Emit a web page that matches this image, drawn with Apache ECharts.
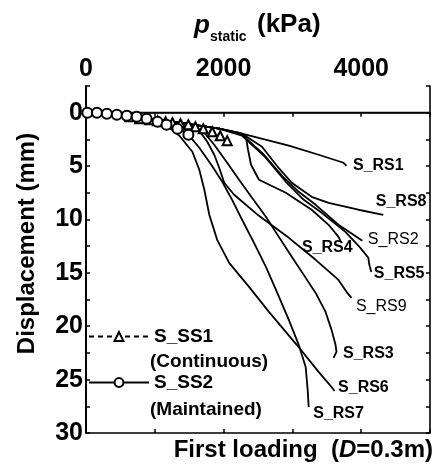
<!DOCTYPE html>
<html>
<head>
<meta charset="utf-8">
<script src="https://cdn.jsdelivr.net/npm/echarts@6/dist/echarts.min.js"></script>
<style>
html,body{margin:0;padding:0;background:#fff;}
#chart{width:433px;height:468px;}
</style>
</head>
<body>
<div id="chart"></div>
<script>
// ---- data (p_static in kPa, displacement in mm) ----
const pLabelValues = [0, 2000, 4000];
const dLabelValues = [0, 5, 10, 15, 20, 25, 30];

const ss1Name = 'S_SS1';
const ss1Note = '(Continuous)';
const ss1P = [636, 780, 925, 1040, 1156, 1257, 1373, 1488, 1590, 1705, 1835, 1951, 2052];
const ss1D = [0.37, 0.56, 0.66, 0.75, 0.84, 0.94, 1.03, 1.12, 1.31, 1.5, 1.78, 2.16, 2.62];

const ss2Name = 'S_SS2';
const ss2Note = '(Maintained)';
const ss2P = [20, 159, 303, 448, 592, 737, 881, 1040, 1170, 1329, 1488];
const ss2D = [0, 0, 0.09, 0.19, 0.28, 0.37, 0.56, 0.84, 1.12, 1.5, 2.06];

const rs1P = [0, 347, 636, 925, 1214, 1647, 1936, 2225, 2948, 3381, 3743, 3786];
const rs1D = [0, 0.09, 0.28, 0.56, 0.8, 1.22, 1.5, 1.88, 3.09, 3.94, 4.69, 4.97];
const rs8P = [0, 347, 636, 925, 1214, 1647, 1936, 2269, 2558, 2803, 2991, 3280, 3526, 3959, 4321];
const rs8D = [0, 0.09, 0.28, 0.56, 0.8, 1.22, 1.5, 1.97, 3.19, 5.2, 6.56, 7.88, 8.44, 9.09, 9.56];
const rs2P = [0, 347, 636, 925, 1214, 1647, 1936, 2269, 2587, 2876, 3092, 3338, 3670, 4017];
const rs2D = [0, 0.09, 0.28, 0.56, 0.8, 1.22, 1.5, 2.06, 3.94, 6.09, 7.41, 8.63, 10.5, 12.0];
const rs5P = [0, 347, 636, 925, 1214, 1647, 1936, 2269, 2587, 2904, 3165, 3425, 3771, 3988, 4104, 4118, 4147];
const rs5D = [0, 0.09, 0.28, 0.56, 0.8, 1.22, 1.5, 2.16, 4.03, 6.47, 8.16, 9.38, 11.16, 12.66, 13.59, 14.25, 14.91];
const rs4P = [0, 347, 636, 925, 1214, 1647, 1936, 2225, 2326, 2355, 2399, 2514, 2904, 3280, 3526, 3670, 3699];
const rs4D = [0, 0.09, 0.28, 0.56, 0.8, 1.22, 1.5, 1.88, 2.34, 3.47, 4.88, 6.28, 7.5, 9.09, 10.5, 11.63, 12.0];
const rs9P = [0, 347, 636, 925, 1214, 1503, 1647, 1763, 1864, 1936, 2009, 2153, 2514, 2948, 3338, 3670, 3786, 3858];
const rs9D = [0, 0.09, 0.28, 0.56, 0.8, 1.22, 1.69, 2.72, 3.94, 5.16, 6.56, 7.69, 9.66, 11.72, 13.78, 15.66, 16.78, 17.34];
const rs3P = [0, 347, 636, 925, 1214, 1575, 1720, 1864, 2052, 2225, 2413, 2615, 2803, 2991, 3165, 3338, 3482, 3569, 3627, 3641, 3598];
const rs3D = [0, 0.09, 0.28, 0.56, 0.8, 1.31, 1.88, 3.0, 4.69, 6.28, 7.97, 9.75, 11.63, 13.5, 15.19, 16.88, 18.66, 20.34, 21.74, 22.41, 22.97];
const rs7P = [0, 347, 636, 925, 1214, 1488, 1647, 1821, 1980, 2124, 2269, 2442, 2615, 2774, 2948, 3092, 3193, 3222, 3237];
const rs7D = [0, 0.09, 0.28, 0.56, 0.84, 2.06, 3.28, 4.88, 6.47, 8.16, 10.03, 12.19, 14.44, 16.78, 19.41, 21.74, 23.81, 25.97, 27.56];
const rs6P = [0, 347, 636, 925, 1142, 1358, 1546, 1647, 1720, 1792, 1907, 2081, 2370, 2659, 3063, 3381, 3569, 3613];
const rs6D = [0, 0.09, 0.28, 0.56, 1.03, 2.16, 3.66, 5.34, 7.22, 9.56, 11.91, 14.06, 16.31, 18.66, 21.74, 24.28, 25.69, 26.06];

const rsNames = ['S_RS1', 'S_RS8', 'S_RS2', 'S_RS5', 'S_RS4', 'S_RS9', 'S_RS3', 'S_RS7', 'S_RS6'];
const rsP = [rs1P, rs8P, rs2P, rs5P, rs4P, rs9P, rs3P, rs7P, rs6P];
const rsD = [rs1D, rs8D, rs2D, rs5D, rs4D, rs9D, rs3D, rs7D, rs6D];

// ---- label placement (style only) ----
const labelStyle = {
  'S_RS1': {off: [7, 0], bold: true},
  'S_RS8': {off: [-7, -13], bold: true},
  'S_RS2': {off: [6, -1], bold: false},
  'S_RS5': {off: [3, 2], bold: true},
  'S_RS4': {off: [-38, 7], bold: true},
  'S_RS9': {off: [5, 9], bold: false},
  'S_RS3': {off: [10, -4], bold: true},
  'S_RS7': {off: [5, 7], bold: true},
  'S_RS6': {off: [4, -3], bold: true}
};

const zip = (a, b) => a.map((v, i) => [v, b[i]]);
const FONT = 'Liberation Sans, Arial, sans-serif';

const series = rsNames.map((name, i) => {
  const data = zip(rsP[i], rsD[i]);
  const last = data[data.length - 1];
  const ls = labelStyle[name];
  return {
    name: name,
    type: 'line',
    data: data,
    symbol: 'none',
    lineStyle: {color: '#000', width: 1.8},
    itemStyle: {color: '#000'},
    z: 2,
    markPoint: {
      silent: true,
      symbol: 'circle',
      symbolSize: 1,
      itemStyle: {color: 'rgba(0,0,0,0)'},
      data: [{
        coord: last,
        label: {
          show: true,
          formatter: name,
          position: ls.off,
          align: 'left',
          verticalAlign: 'middle',
          color: '#000',
          fontFamily: FONT,
          fontSize: 16,
          fontWeight: ls.bold ? 'bold' : 'normal'
        }
      }]
    }
  };
});

series[0].markLine = {
  silent: true,
  symbol: 'none',
  label: {show: false},
  lineStyle: {color: '#000', width: 1.3, type: 'solid'},
  data: [{yAxis: 0}]
};

series.push({
  name: ss1Name,
  type: 'line',
  data: zip(ss1P, ss1D),
  symbol: 'emptyTriangle',
  symbolSize: 9,
  lineStyle: {color: '#000', width: 1.5, type: [5, 4]},
  itemStyle: {color: '#000', borderWidth: 1.6},
  z: 4
});
series.push({
  name: ss2Name,
  type: 'line',
  data: zip(ss2P, ss2D),
  symbol: 'emptyCircle',
  symbolSize: 10,
  lineStyle: {color: '#000', width: 1.5},
  itemStyle: {color: '#000', borderWidth: 1.8},
  z: 5
});

const chart = echarts.init(document.getElementById('chart'), null, {renderer: 'canvas'});
const axisTextBase = {color: '#000', fontFamily: FONT, fontSize: 25, fontWeight: 'bold'};

chart.setOption({
  animation: false,
  backgroundColor: '#fff',
  grid: {left: 86, right: 0, top: 86, bottom: 35, containLabel: false},
  xAxis: [{
    type: 'value', position: 'top', min: 0, max: 5000, interval: 1000,
    axisLine: {show: true, lineStyle: {color: '#000', width: 1.6}},
    axisTick: {show: true, inside: true, length: 4, lineStyle: {color: '#000', width: 1.5}},
    axisLabel: Object.assign({margin: 4, formatter: v => pLabelValues.includes(v) ? String(v) : ''}, axisTextBase),
    splitLine: {show: false}
  }, {
    type: 'value', position: 'bottom', min: 0, max: 5000, interval: 1000,
    axisLine: {show: true, onZero: false, lineStyle: {color: '#000', width: 1.6}},
    axisTick: {show: true, inside: true, length: 4, lineStyle: {color: '#000', width: 1.5}},
    axisLabel: {show: false},
    splitLine: {show: false}
  }],
  yAxis: [{
    type: 'value', inverse: true, min: -2.5, max: 30, interval: 2.5, position: 'left',
    axisLine: {show: true, onZero: false, lineStyle: {color: '#000', width: 2}},
    axisTick: {show: true, inside: true, length: 4, lineStyle: {color: '#000', width: 1.5}},
    axisLabel: Object.assign({margin: 3, formatter: v => dLabelValues.includes(v) ? String(v) : ''}, axisTextBase),
    splitLine: {show: false},
    name: 'Displacement (mm)',
    nameLocation: 'middle',
    nameRotate: 90,
    nameGap: 47,
    nameTextStyle: {color: '#000', fontFamily: FONT, fontSize: 24, fontWeight: 'bold', padding: [0, 0, 0, 32]}
  }, {
    type: 'value', inverse: true, min: -2.5, max: 30, interval: 2.5, position: 'right',
    axisLine: {show: true, onZero: false, lineStyle: {color: '#000', width: 1.6}},
    axisTick: {show: true, inside: true, length: 4, lineStyle: {color: '#000', width: 1.5}},
    axisLabel: {show: false},
    splitLine: {show: false}
  }],
  legend: {
    data: [ss1Name, ss2Name],
    orient: 'vertical',
    left: 88,
    top: 327,
    padding: 0,
    itemWidth: 60,
    itemHeight: 11,
    itemGap: 27,
    selectedMode: false,
    textStyle: {color: '#000', fontFamily: FONT, fontSize: 19, fontWeight: 'bold'}
  },
  graphic: [
    {type: 'text', left: 150, top: 352, style: {text: ss1Note, fill: '#000', font: 'bold 19px ' + FONT}},
    {type: 'text', left: 150, top: 400, style: {text: ss2Note, fill: '#000', font: 'bold 19px ' + FONT}},
    {type: 'text', x: 194, y: 26, style: {text: 'p', fill: '#000', font: 'italic bold 26px ' + FONT, align: 'left', verticalAlign: 'middle'}},
    {type: 'text', x: 210, y: 37, style: {text: 'static', fill: '#000', font: 'bold 14px ' + FONT, align: 'left', verticalAlign: 'middle'}},
    {type: 'text', x: 257, y: 25, style: {text: '(kPa)', fill: '#000', font: 'bold 26px ' + FONT, align: 'left', verticalAlign: 'middle'}},
    {type: 'text', x: 433, y: 450, style: {
      text: '{a|First loading  (}{b|D}{a|=0.3m)}', align: 'right', verticalAlign: 'middle',
      rich: {
        a: {fill: '#000', color: '#000', fontFamily: FONT, fontSize: 24, fontWeight: 'bold'},
        b: {fill: '#000', color: '#000', fontFamily: FONT, fontSize: 24, fontWeight: 'bold', fontStyle: 'italic'}
      }
    }}
  ],
  series: series
});
</script>
</body>
</html>
